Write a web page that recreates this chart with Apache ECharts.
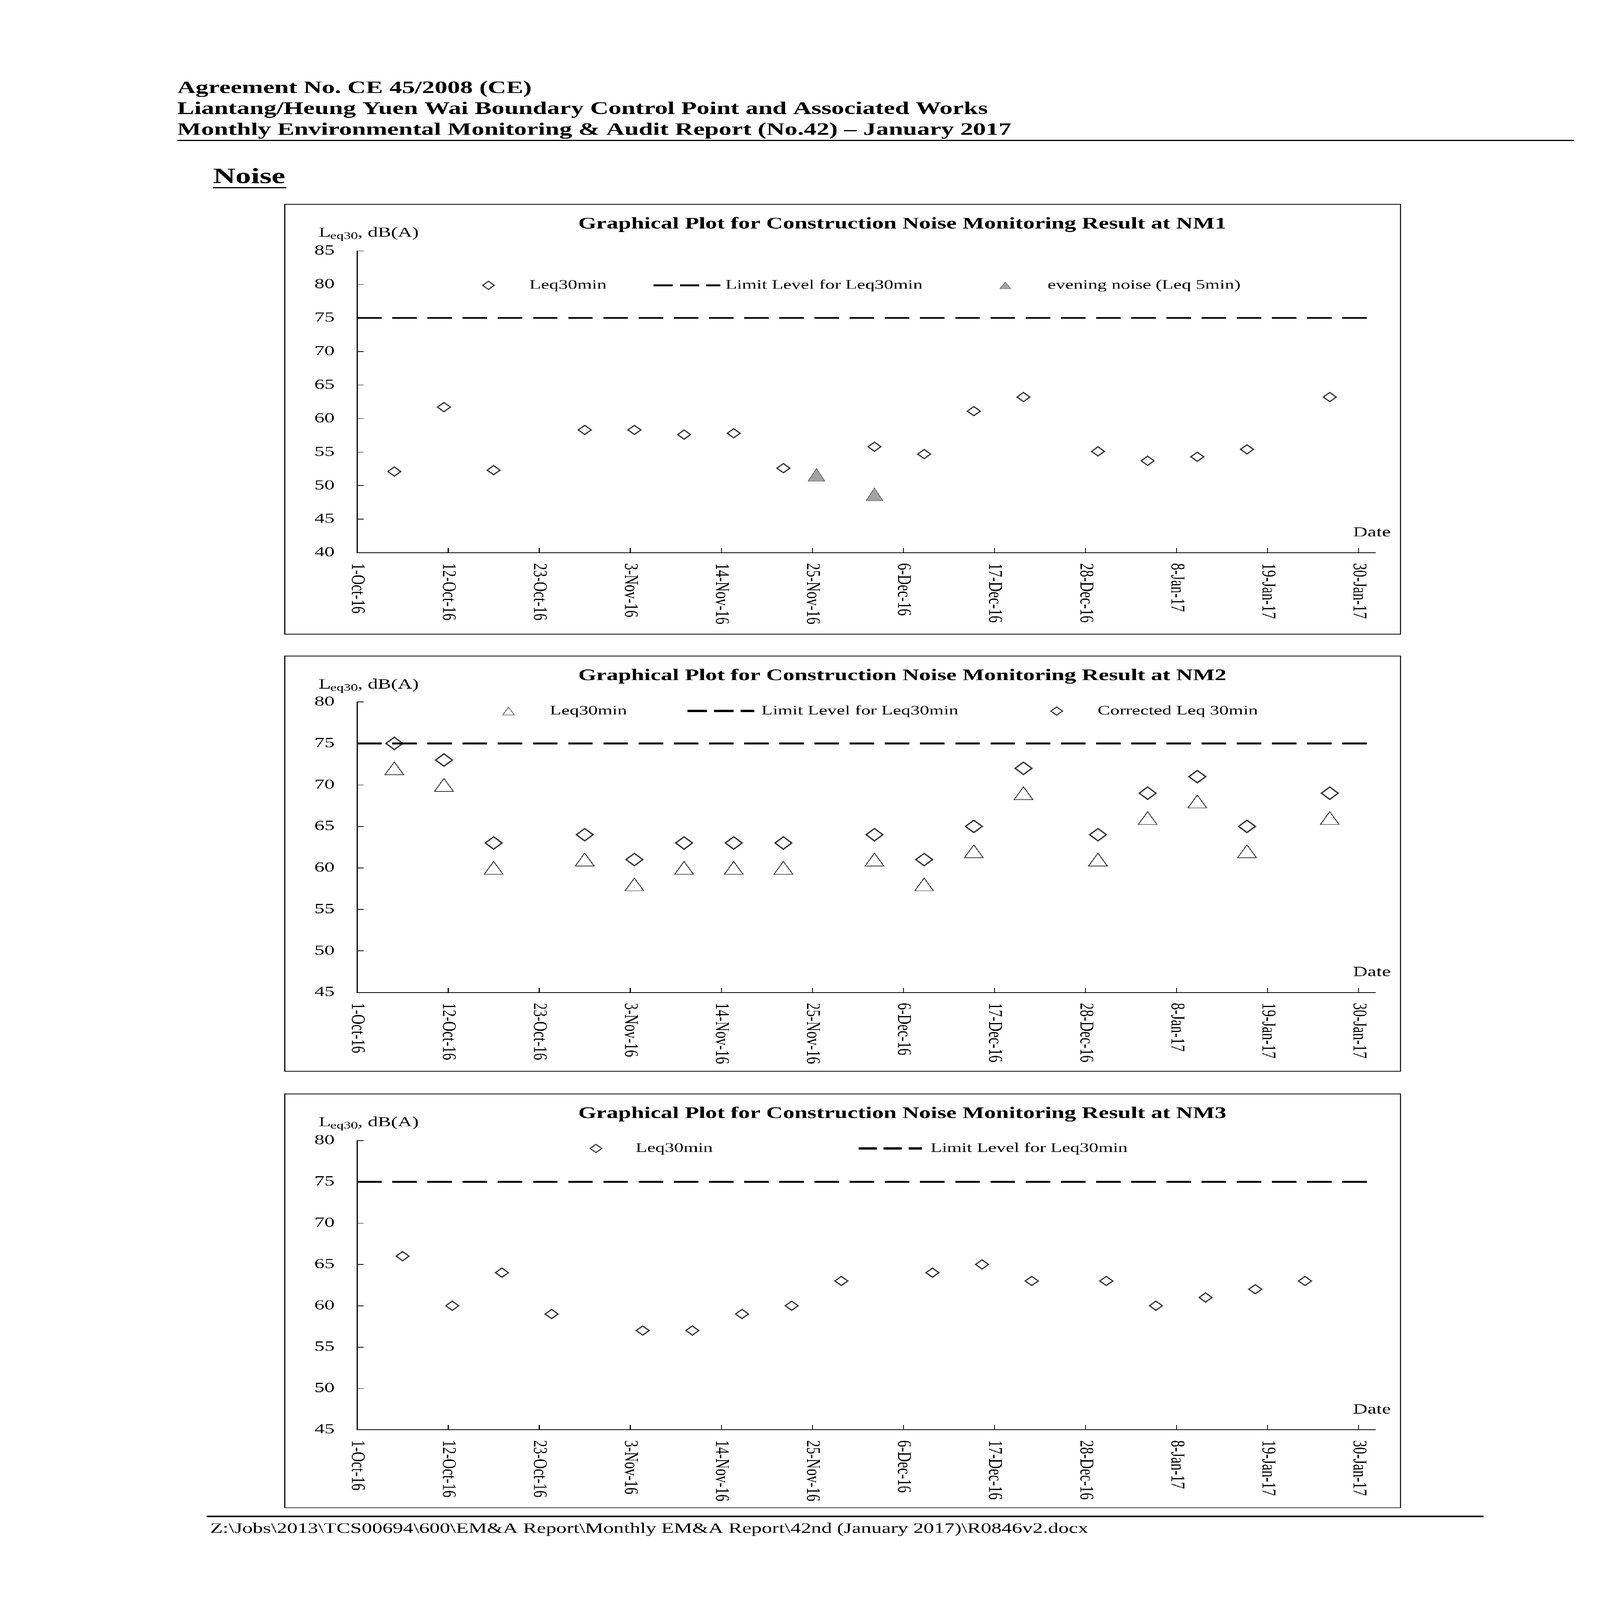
<!DOCTYPE html>
<html><head><meta charset="utf-8">
<script src="https://cdn.jsdelivr.net/npm/echarts@6/dist/echarts.min.js"></script>
<style>html,body{margin:0;padding:0;background:#fff;overflow:hidden}#c{width:4956px;height:7009px;transform-origin:0 0;background:#fff}</style>
</head><body><div id="c"></div>
<script>
// ---------- data ----------
const axisStart = '2016-10-01';
const axisEnd = '2017-02-01';
const tickDates = ['2016-10-01','2016-10-12','2016-10-23','2016-11-03','2016-11-14','2016-11-25','2016-12-06','2016-12-17','2016-12-28','2017-01-08','2017-01-19','2017-01-30'];
const tickLabels = ['1-Oct-16','12-Oct-16','23-Oct-16','3-Nov-16','14-Nov-16','25-Nov-16','6-Dec-16','17-Dec-16','28-Dec-16','8-Jan-17','19-Jan-17','30-Jan-17'];

const nm1Dates = ['2016-10-05','2016-10-11','2016-10-17','2016-10-28','2016-11-03','2016-11-09','2016-11-15','2016-11-21','2016-12-02','2016-12-08','2016-12-14','2016-12-20','2016-12-29','2017-01-04','2017-01-10','2017-01-16','2017-01-26'];
const nm1Leq30 = [52.1, 61.7, 52.3, 58.3, 58.3, 57.6, 57.8, 52.6, 55.8, 54.7, 61.1, 63.2, 55.1, 53.7, 54.3, 55.4, 63.2];
const nm1EveningDates = ['2016-11-25','2016-12-02'];
const nm1Evening = [51.6, 48.7];

const nm2Dates = ['2016-10-05','2016-10-11','2016-10-17','2016-10-28','2016-11-03','2016-11-09','2016-11-15','2016-11-21','2016-12-02','2016-12-08','2016-12-14','2016-12-20','2016-12-29','2017-01-04','2017-01-10','2017-01-16','2017-01-26'];
const nm2Leq30 = [72, 70, 60, 61, 58, 60, 60, 60, 61, 58, 62, 69, 61, 66, 68, 62, 66];
const nm2Corrected = [75, 73, 63, 64, 61, 63, 63, 63, 64, 61, 65, 72, 64, 69, 71, 65, 69];

const nm3Dates = ['2016-10-06','2016-10-12','2016-10-18','2016-10-24','2016-11-04','2016-11-10','2016-11-16','2016-11-22','2016-11-28','2016-12-09','2016-12-15','2016-12-21','2016-12-30','2017-01-05','2017-01-11','2017-01-17','2017-01-23'];
const nm3Leq30 = [66, 60, 64, 59, 57, 57, 59, 60, 63, 64, 65, 63, 63, 60, 61, 62, 63];

const limitLevel = 75;

// ---------- page is laid out at 4956x7009; fit it to the actual window ----------
const PAGE_W = 4956, PAGE_H = 7009;
(function fit(){
  const w = window.innerWidth || PAGE_W, h = window.innerHeight || PAGE_H;
  const sx = w / PAGE_W, sy = h / PAGE_H;
  if (Math.abs(sx-1) > 1e-3 || Math.abs(sy-1) > 1e-3) {
    document.getElementById('c').style.transform = 'scale(' + sx + ',' + sy + ')';
  }
})();

// ---------- helpers ----------
const FONT = '"Liberation Serif","Times New Roman",serif';
function day(s){ return (Date.parse(s+'T00:00:00Z') - Date.parse(axisStart+'T00:00:00Z'))/86400000; }
const axisMax = day(axisEnd);
const tickDays = tickDates.map(day);
// Excel date axis places points in the middle of the day slot
function pts(dates, vals){ return dates.map((d,i)=>[day(d)+0.5, vals[i]]); }

function txt(x, base, text, size, weight, align){
  return {type:'text', x:x, y:base - 0.305*size, z:10,
    style:{text:text, font:(weight||'normal')+' '+size+'px '+FONT, fill:'#000',
      align:align||'left', verticalAlign:'middle', textAlign:align||'left', textVerticalAlign:'middle'}};
}
function hline(x1,x2,y,w){ return {type:'line', shape:{x1:x1,y1:y,x2:x2,y2:y}, style:{stroke:'#000', lineWidth:w}}; }
function box(x,y,w,h){ return {type:'rect', shape:{x:x,y:y,width:w,height:h}, style:{fill:'none', stroke:'#000', lineWidth:3}}; }

const PLOT_L = 1106, PLOT_R = 4260;
const charts = [
  {T:895,  H:1883, ymax:1099, ymin:2421, vmin:40, vmax:85, title:'Graphical Plot for Construction Noise Monitoring Result at NM1'},
  {T:2874, H:1819, ymax:3075, ymin:4347, vmin:45, vmax:80, title:'Graphical Plot for Construction Noise Monitoring Result at NM2'},
  {T:4792, H:1813, ymax:4996, ymin:6263, vmin:45, vmax:80, title:'Graphical Plot for Construction Noise Monitoring Result at NM3'}
];

const grids=[], xAxes=[], yAxes=[], graphics=[];
charts.forEach((c,i)=>{
  grids.push({left:PLOT_L, top:c.ymax, width:PLOT_R-PLOT_L, height:c.ymin-c.ymax});
  xAxes.push({type:'value', gridIndex:i, min:0, max:axisMax, interval:11,
    axisLine:{show:true, lineStyle:{color:'#000', width:3}},
    axisTick:{show:true, inside:true, length:20, customValues:tickDays, lineStyle:{color:'#000', width:3}},
    axisLabel:{customValues:tickDays, rotate:-90, margin:46, showMinLabel:true, showMaxLabel:true, hideOverlap:false,
      fontFamily:FONT, fontSize:61, color:'#000',
      formatter:v=>{const k=tickDays.indexOf(v); return k>=0?tickLabels[k]:'';}},
    splitLine:{show:false}});
  yAxes.push({type:'value', gridIndex:i, min:c.vmin, max:c.vmax, interval:5,
    axisLine:{show:true, lineStyle:{color:'#000', width:3}},
    axisTick:{show:true, inside:true, length:20, lineStyle:{color:'#000', width:3}},
    axisLabel:{margin:70, fontFamily:FONT, fontSize:62, color:'#000'},
    splitLine:{show:false}});
  graphics.push(box(882, c.T, 3456, c.H));
  graphics.push(txt(1791, c.T+109, c.title, 72, 'bold'));
  graphics.push(txt(987, c.T+145, 'L', 62));
  graphics.push(txt(1023, c.T+154, 'eq30', 44));
  graphics.push(txt(1108, c.T+145, ', dB(A)', 62));
  graphics.push(txt(4308, c.ymin-68, 'Date', 62, 'normal', 'right'));
});

// page text
graphics.push(txt(549, 412, 'Agreement No. CE 45/2008 (CE)', 79, 'bold'));
graphics.push(txt(549, 503, 'Liantang/Heung Yuen Wai Boundary Control Point and Associated Works', 79, 'bold'));
graphics.push(txt(549, 595, 'Monthly Environmental Monitoring & Audit Report (No.42) \u2013 January 2017', 79, 'bold'));
graphics.push(hline(549, 4875, 615, 5));
graphics.push(txt(660, 806, 'Noise', 96, 'bold'));
graphics.push(hline(660, 887, 822, 6));
graphics.push(hline(640, 4595, 6643, 6));
graphics.push(txt(651, 6718, 'Z:\\Jobs\\2013\\TCS00694\\600\\EM&A Report\\Monthly EM&A Report\\42nd (January 2017)\\R0846v2.docx', 64));

const DASH_ICON = 'path://M0,0H60V10H0Z M82,0H142V10H82Z M164,0H207V10H164Z';
function leg(name, icon, left, yc, w, h, pad, itemStyle){
  return {data:[{name:name, icon:icon}], left:left, top:yc-29, orient:'horizontal', padding:0,
    itemWidth:w, itemHeight:h, itemGap:0, selectedMode:false, symbolKeepAspect:false,
    itemStyle:itemStyle,
    textStyle:{fontFamily:FONT, fontSize:58, color:'#000', lineHeight:58, padding:[0,0,0,pad]},
    formatter:n=>n.replace(/^NM\d /,'')};
}
const hollowDiamond = {color:'#fff', borderColor:'#000', borderWidth:4};
const dashStyle = {color:'#000', borderWidth:0};
const greyTri = {color:'#8c8c8c', borderColor:'#333', borderWidth:1.5};
const hollowTri = {color:'#fff', borderColor:'#222', borderWidth:2.5};

const legends = [
  leg('NM1 Leq30min', 'diamond', 1493, 1250, 36, 36, 104, hollowDiamond),
  leg('NM1 Limit Level for Leq30min', DASH_ICON, 2024, 1250, 207, 10, 11, dashStyle),
  leg('NM1 evening noise (Leq 5min)', 'triangle', 3096, 1250, 34, 30, 109, greyTri),
  leg('NM2 Leq30min', 'triangle', 1556, 3115, 36, 34, 105, hollowTri),
  leg('NM2 Limit Level for Leq30min', DASH_ICON, 2130, 3115, 207, 10, 16, dashStyle),
  leg('NM2 Corrected Leq 30min', 'diamond', 3253, 3115, 36, 36, 104, hollowDiamond),
  leg('NM3 Leq30min', 'diamond', 1826, 5031, 36, 36, 100, hollowDiamond),
  leg('NM3 Limit Level for Leq30min', DASH_ICON, 2659, 5031, 196, 10, 22, dashStyle)
];

function limitSeries(i){
  return {name:'NM'+(i+1)+' Limit Level for Leq30min', type:'line', xAxisIndex:i, yAxisIndex:i,
    data:[[0,limitLevel],[axisMax,limitLevel]], symbol:'none', silent:true,
    lineStyle:{color:'#000', width:8, type:[76,33]}};
}
const series = [
  {name:'NM1 Leq30min', type:'scatter', xAxisIndex:0, yAxisIndex:0, data:pts(nm1Dates,nm1Leq30),
    symbol:'diamond', symbolSize:40, itemStyle:{color:'#fff', borderColor:'#000', borderWidth:4.5}},
  limitSeries(0),
  {name:'NM1 evening noise (Leq 5min)', type:'scatter', xAxisIndex:0, yAxisIndex:0, data:pts(nm1EveningDates,nm1Evening),
    symbol:'triangle', symbolSize:[52,56], itemStyle:{color:'#8c8c8c', borderColor:'#333', borderWidth:2}},
  {name:'NM2 Leq30min', type:'scatter', xAxisIndex:1, yAxisIndex:1, data:pts(nm2Dates,nm2Leq30),
    symbol:'triangle', symbolSize:[58,56], itemStyle:{color:'#fff', borderColor:'#000', borderWidth:3}},
  limitSeries(1),
  {name:'NM2 Corrected Leq 30min', type:'scatter', xAxisIndex:1, yAxisIndex:1, data:pts(nm2Dates,nm2Corrected),
    symbol:'diamond', symbolSize:[52,54], itemStyle:{color:'#fff', borderColor:'#000', borderWidth:5}},
  {name:'NM3 Leq30min', type:'scatter', xAxisIndex:2, yAxisIndex:2, data:pts(nm3Dates,nm3Leq30),
    symbol:'diamond', symbolSize:40, itemStyle:{color:'#fff', borderColor:'#000', borderWidth:4.5}},
  limitSeries(2)
];

const chart = echarts.init(document.getElementById('c'), null, {renderer:'canvas', width:PAGE_W, height:PAGE_H});
chart.setOption({
  backgroundColor:'#fff', animation:false,
  grid:grids, xAxis:xAxes, yAxis:yAxes, legend:legends, series:series, graphic:graphics
});
</script>
</body></html>
